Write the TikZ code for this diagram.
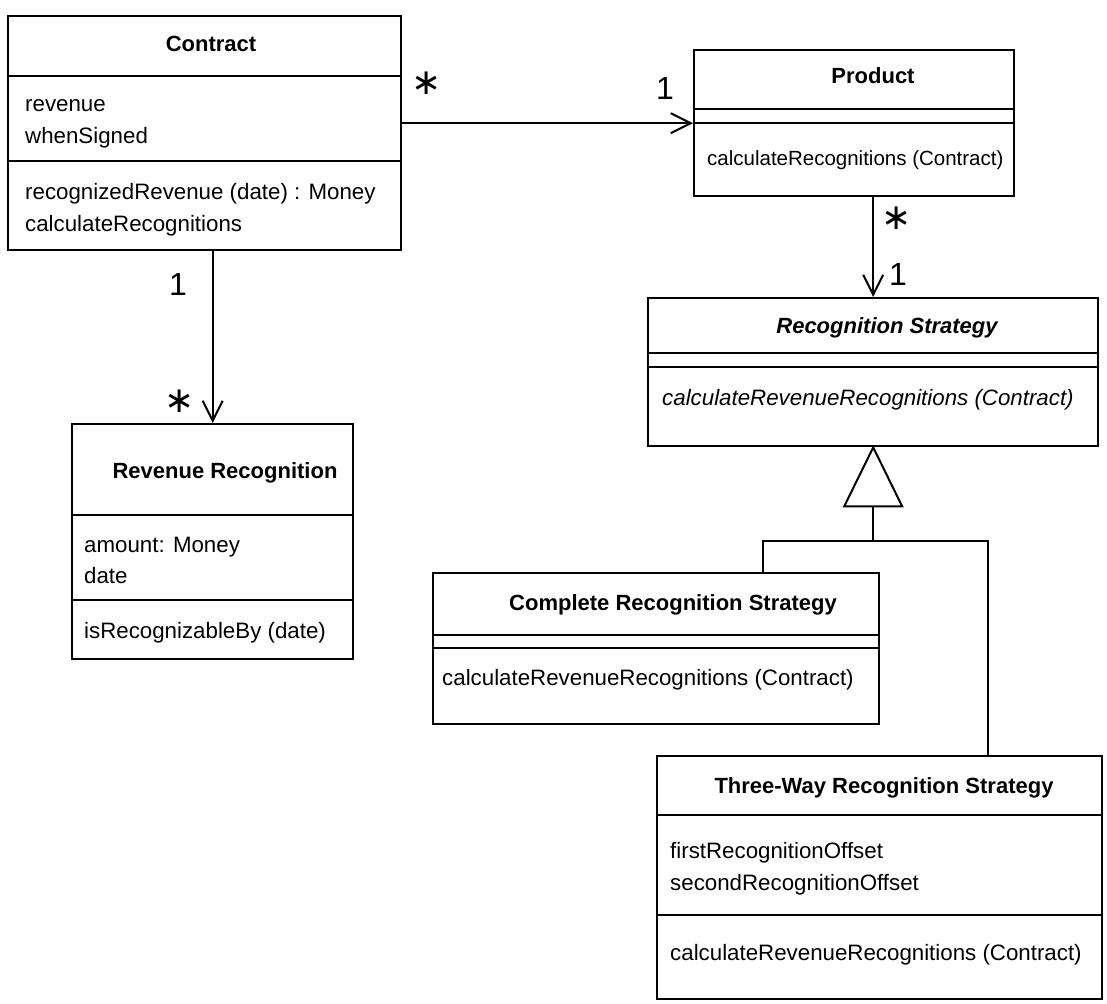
\documentclass[tikz,border=0pt]{standalone}
\usepackage{fontspec}
\setmainfont{Liberation Sans}
\newfontfamily\symfont{DejaVu Sans}
\usetikzlibrary{arrows.meta,calc}
\begin{document}
\begin{tikzpicture}[x=1pt,y=-1pt,
  classbox/.style={draw, line width=2.4pt, anchor=north west, inner sep=0pt},
  divider/.style={line width=2.2pt},
  title/.style={anchor=base, inner sep=0pt, font=\fontsize{22}{26}\selectfont\bfseries},
  abstitle/.style={title, font=\fontsize{22}{26}\selectfont\bfseries\itshape},
  member/.style={anchor=base west, inner sep=0pt, font=\fontsize{22.3}{26}\selectfont},
  absmember/.style={member, font=\fontsize{22.3}{26}\selectfont\itshape},
  mult/.style={anchor=base, inner sep=0pt, font=\fontsize{32}{36}\selectfont},
  many/.style={inner sep=0pt, font=\fontsize{36}{40}\symfont},
  assoc/.style={line width=2pt, -{Straight Barb[length=20pt,width=20pt,line width=2pt]}},
  generalize/.style={line width=2pt, line join=miter}
]
\useasboundingbox (0,0) rectangle (1107,1003);

% ---- Contract ----
\node[classbox, minimum width=393pt, minimum height=234pt] (contract) at (7,15) {};
\draw[divider] ($(contract.north west)+(0,61)$) -- ($(contract.north east)+(0,61)$);
\draw[divider] ($(contract.north west)+(0,146)$) -- ($(contract.north east)+(0,146)$);
\node[title] (contractT) at (211,52) {Contract};
\node[member] (contractA1) at (25,112) {revenue};
\node[member] (contractA2) at (25,144) {whenSigned};
\node[member] (contractO1) at (25,199) {recognizedRevenue (date) : Money};
\node[member] (contractO2) at (25,231) {calculateRecognitions};

% ---- Product ----
\node[classbox, minimum width=320pt, minimum height=146pt] (product) at (693,49) {};
\draw[divider] ($(product.north west)+(0,60)$) -- ($(product.north east)+(0,60)$);
\draw[divider] ($(product.north west)+(0,74)$) -- ($(product.north east)+(0,74)$);
\node[title] (productT) at (873,84) {Product};
\node[member, font=\fontsize{20.5}{26}\selectfont] (productO1) at (707,166) {calculateRecognitions (Contract)};

% ---- Recognition Strategy (abstract) ----
\node[classbox, minimum width=450pt, minimum height=148pt] (recstrat) at (647,297) {};
\draw[divider] ($(recstrat.north west)+(0,56)$) -- ($(recstrat.north east)+(0,56)$);
\draw[divider] ($(recstrat.north west)+(0,70)$) -- ($(recstrat.north east)+(0,70)$);
\node[abstitle] (recstratT) at (887,333) {Recognition Strategy};
\node[absmember] (recstratO1) at (662,405) {calculateRevenueRecognitions (Contract)};

% ---- Revenue Recognition ----
\node[classbox, minimum width=281pt, minimum height=235pt] (revrec) at (71,423) {};
\draw[divider] ($(revrec.north west)+(0,92)$) -- ($(revrec.north east)+(0,92)$);
\draw[divider] ($(revrec.north west)+(0,177)$) -- ($(revrec.north east)+(0,177)$);
\node[title] (revrecT) at (225,478) {Revenue Recognition};
\node[member] (revrecA1) at (84,552) {amount: Money};
\node[member] (revrecA2) at (84,583) {date};
\node[member] (revrecO1) at (84,638) {isRecognizableBy (date)};

% ---- Complete Recognition Strategy ----
\node[classbox, minimum width=446pt, minimum height=151pt] (complete) at (432,572) {};
\draw[divider] ($(complete.north west)+(0,63)$) -- ($(complete.north east)+(0,63)$);
\draw[divider] ($(complete.north west)+(0,76)$) -- ($(complete.north east)+(0,76)$);
\node[title] (completeT) at (673,610) {Complete Recognition Strategy};
\node[member] (completeO1) at (442,685) {calculateRevenueRecognitions (Contract)};

% ---- Three-Way Recognition Strategy ----
\node[classbox, minimum width=445pt, minimum height=243pt] (threeway) at (656,755) {};
\draw[divider] ($(threeway.north west)+(0,60)$) -- ($(threeway.north east)+(0,60)$);
\draw[divider] ($(threeway.north west)+(0,160)$) -- ($(threeway.north east)+(0,160)$);
\node[title] (threewayT) at (884,793) {Three-Way Recognition Strategy};
\node[member] (threewayA1) at (670,858) {firstRecognitionOffset};
\node[member] (threewayA2) at (670,890) {secondRecognitionOffset};
\node[member] (threewayO1) at (670,960) {calculateRevenueRecognitions (Contract)};

% ---- associations ----
\draw[assoc] (contract.east |- product.west) -- (product.west);
\node[many] (mContractMany) at (427,83) {∗};
\node[mult] (mProductOne) at (665,100) {1};

\draw[assoc] (revrec.north |- contract.south) -- (revrec.north);
\node[mult] (mContractOne) at (178,295) {1};
\node[many] (mRevrecMany) at (180,401) {∗};

\draw[assoc] (recstrat.north |- product.south) -- (recstrat.north);
\node[many] (mProductMany) at (897,218) {∗};
\node[mult] (mStrategyOne) at (898,285) {1};

% ---- generalization ----
\draw[generalize] (recstrat.south) -- ++(-29,59) -- ++(58,0) -- cycle;
\coordinate (triBase) at ($(recstrat.south)+(0,59)$);
\coordinate (junction) at ($(triBase)+(0,35)$);
\draw[generalize] (triBase) -- (junction);
\draw[generalize] (complete.north -| 763,0) |- (junction) -| (threeway.north -| 988,0);
\end{tikzpicture}
\end{document}
